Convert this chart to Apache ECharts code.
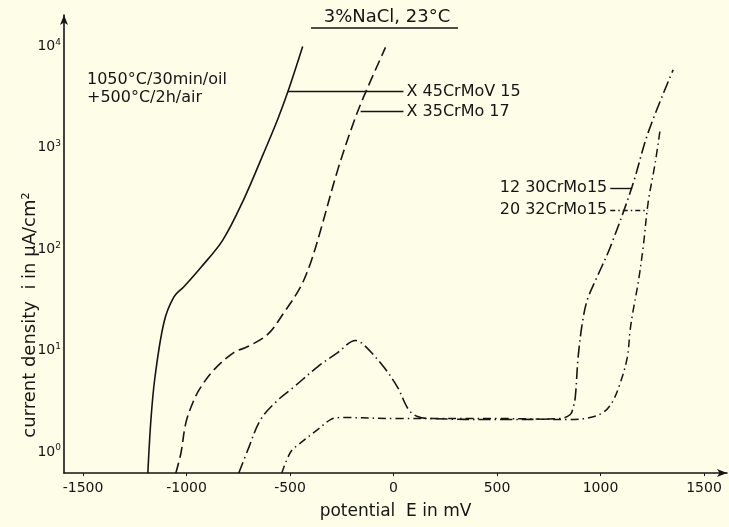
<!DOCTYPE html>
<html><head><meta charset="utf-8">
<script src="https://cdn.jsdelivr.net/npm/echarts@6/dist/echarts.min.js"></script>
<style>html,body{margin:0;padding:0;background:#fdfde8}#c{width:729px;height:527px}</style>
</head><body><div id="c"></div>
<script>
// Tick values
const xTicks = [-1500, -1000, -500, 0, 500, 1000, 1500];
const yDecades = [0, 1, 2, 3, 4];   // exponent of 10 (µA/cm²)

// Potential E (mV) and log10 of current density i (µA/cm²)
const x45_E    = [-1187, -1172, -1153, -1109, -1061, -1013, -931, -825, -724, -627, -560, -511, -439];
const x45_logI = [-0.21, 0.32, 0.73, 1.28, 1.53, 1.63, 1.82, 2.09, 2.49, 2.95, 3.28, 3.55, 4.00];

const x35_E    = [-1052, -1027, -1003, -965, -931, -868, -772, -704, -608, -531, -449, -400, -352, -270, -193, -145, -39];
const x35_logI = [-0.21, -0.01, 0.29, 0.51, 0.64, 0.81, 0.98, 1.04, 1.16, 1.37, 1.63, 1.87, 2.19, 2.78, 3.25, 3.50, 3.99];

const c1230_E    = [-748, -704, -642, -560, -482, -367, -270, -183, -145, -48, 19, 72, 116, 178, 516, 806, 854, 868, 878, 892, 912, 936, 984, 1047, 1153, 1230, 1351];
const c1230_logI = [-0.21, 0.02, 0.32, 0.51, 0.64, 0.84, 0.98, 1.10, 1.06, 0.84, 0.64, 0.42, 0.35, 0.33, 0.32, 0.33, 0.37, 0.44, 0.54, 0.94, 1.27, 1.50, 1.73, 2.02, 2.62, 3.15, 3.77];

const c2032_E    = [-540, -497, -449, -367, -304, -256, 34, 516, 854, 950, 1013, 1056, 1095, 1129, 1143, 1158, 1182, 1206, 1230, 1264, 1288];
const c2032_logI = [-0.21, 0.00, 0.09, 0.22, 0.32, 0.34, 0.33, 0.33, 0.32, 0.34, 0.39, 0.49, 0.68, 0.93, 1.20, 1.40, 1.67, 2.02, 2.46, 2.85, 3.18];

const zip = (a, b) => a.map((v, i) => [v, b[i]]);
const INK = '#151515';
const FONT = 'DejaVu Sans';

function leader(x0, x1, y, text, pos, type) {
  return {
    silent: true, symbol: 'none', animation: false,
    lineStyle: { color: INK, width: 1.4, type: type || 'solid' },
    label: { show: true, position: pos, formatter: text, color: INK, fontSize: 16, fontFamily: FONT, distance: 3 },
    data: [[{ coord: [x0, y] }, { coord: [x1, y] }]]
  };
}

const chart = echarts.init(document.getElementById('c'));
chart.setOption({
  backgroundColor: '#fdfde8',
  animation: false,
  grid: { left: 64, right: 2, top: 15, bottom: 54, containLabel: false },
  xAxis: {
    type: 'value', min: -1592, max: 1611,
    name: 'potential  E in mV', nameLocation: 'middle', nameGap: 30,
    nameTextStyle: { color: INK, fontSize: 17, fontFamily: FONT },
    axisLine: { onZero: false, lineStyle: { color: INK, width: 1.6 }, symbol: ['none', 'arrow'], symbolSize: [6, 10] },
    axisTick: { show: true, length: 3, customValues: xTicks, lineStyle: { color: INK } },
    axisLabel: { customValues: xTicks, color: INK, fontSize: 14, fontFamily: FONT, margin: 8, formatter: v => String(v) },
    splitLine: { show: false }
  },
  yAxis: {
    type: 'value', min: -0.207, max: 4.31,
    axisLine: { onZero: false, lineStyle: { color: INK, width: 1.6 }, symbol: ['none', 'arrow'], symbolSize: [6, 10] },
    axisTick: { show: false },
    axisLabel: {
      customValues: yDecades, margin: 3, color: INK,
      formatter: v => '{b|10}{s|' + v + '}',
      rich: {
        b: { fontSize: 14, fontFamily: FONT, color: INK },
        s: { fontSize: 9, fontFamily: FONT, color: INK, verticalAlign: 'top', padding: [0, 0, 8, 0] }
      }
    },
    splitLine: { show: false }
  },
  series: [
    { name: 'X 45CrMoV 15', type: 'line', data: zip(x45_E, x45_logI), smooth: 0.35, showSymbol: false,
      lineStyle: { color: INK, width: 1.6 }, markLine: leader(-511, 48, 3.554, 'X 45CrMoV 15', 'end') },
    { name: 'X 35CrMo 17', type: 'line', data: zip(x35_E, x35_logI), smooth: 0.35, showSymbol: false,
      lineStyle: { color: INK, width: 1.6, type: [11, 5] }, markLine: leader(-159, 48, 3.356, 'X 35CrMo 17', 'end') },
    { name: '12 30CrMo15', type: 'line', data: zip(c1230_E, c1230_logI), smooth: 0.35, showSymbol: false,
      lineStyle: { color: INK, width: 1.6, type: [12, 4, 1.5, 4] }, markLine: leader(1047, 1153, 2.606, '12 30CrMo15', 'start') },
    { name: '20 32CrMo15', type: 'line', data: zip(c2032_E, c2032_logI), smooth: 0.35, showSymbol: false,
      lineStyle: { color: INK, width: 1.5, type: [8, 4, 1.5, 4] }, markLine: leader(1047, 1230, 2.389, '20 32CrMo15', 'start', [5, 3, 1.5, 3]) }
  ],
  graphic: [
    { type: 'text', x: 387, y: 17, style: { text: '3%NaCl, 23\u00b0C', fontSize: 18, fontFamily: FONT, fill: INK, align: 'center', verticalAlign: 'middle' } },
    { type: 'line', shape: { x1: 311, y1: 28, x2: 458, y2: 28 }, style: { stroke: INK, lineWidth: 1.3 } },
    { type: 'text', x: 87, y: 71, style: { text: '1050\u00b0C/30min/oil\n+500\u00b0C/2h/air', fontSize: 16, lineHeight: 18, fontFamily: FONT, fill: INK } },
    { type: 'text', x: 30, y: 315, rotation: Math.PI / 2, style: { text: 'current density  i in \u03bcA/cm\u00b2', fontSize: 18, fontFamily: FONT, fill: INK, align: 'center', verticalAlign: 'middle' } }
  ]
});
</script></body></html>
